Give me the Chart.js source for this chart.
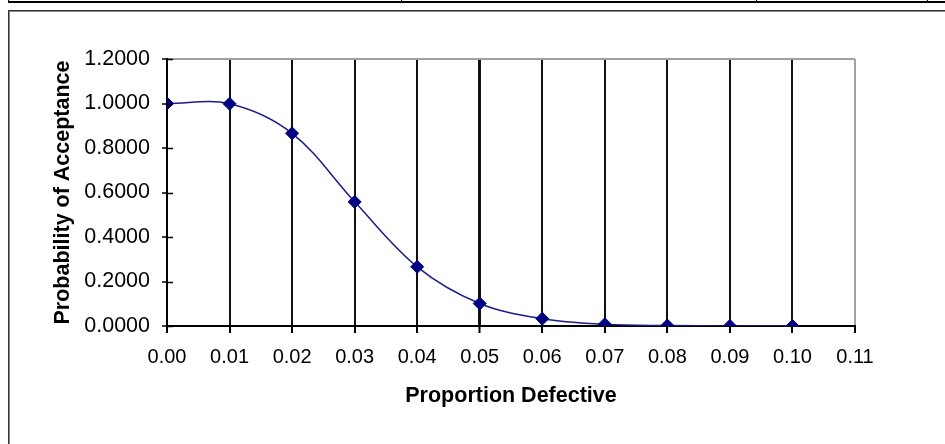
<!DOCTYPE html>
<html>
<head>
<meta charset="utf-8">
<title>OC Curve</title>
<script src="https://cdn.jsdelivr.net/npm/chart.js@4.4.0/dist/chart.umd.min.js"></script>
<style>
    html, body {
        margin: 0;
        padding: 0;
        width: 945px;
        height: 444px;
        overflow: hidden;
        background: #fff;
    }
    /* strip of the table row above the chart */
    .topRow {
        position: absolute;
        top: -30px;
        left: 8px;
        width: 1000px;
        height: 31px;
        border-bottom: 2px solid #000;
        display: flex;
    }
    .topRow div {
        border-left: 1px solid #000;
        height: 100%;
    }
    /* chart frame */
    .chartBox {
        position: absolute;
        top: 10px;
        left: 8px;
        width: 1000px;
        height: 500px;
        border-top: 1px solid #333;
        border-left: 1px solid #333;
        box-shadow: inset 1px 1px 0 #8a8a8a;
    }
    #ocChart {
        position: absolute;
        top: 0;
        left: 0;
    }
</style>
</head>
<body>
<div class="topRow">
    <div style="width:393px"></div>
    <div style="width:354px"></div>
    <div style="width:171px"></div>
    <div style="width:80px"></div>
</div>
<div class="chartBox"></div>
<canvas id="ocChart" width="945" height="444"></canvas>

<script>
// Operating characteristic curve data
const proportionDefective = [0.00, 0.01, 0.02, 0.03, 0.04, 0.05, 0.06, 0.07, 0.08, 0.09, 0.10];
const probAcceptance = [1.0000, 0.9990, 0.8660, 0.5580, 0.2660, 0.1010, 0.0330, 0.0080, 0.0020, 0.0005, 0.0001];

const xTitle = 'Proportion Defective';
const yTitle = 'Probability of Acceptance';

const labelFont = "'Liberation Sans', Arial, sans-serif";

// Short tick stubs that cross into the plot from the value axis
const innerTicks = {
    id: 'innerTicks',
    afterDraw(chart) {
        const ctx = chart.ctx;
        const y = chart.scales.y;
        const left = chart.chartArea.left;
        ctx.save();
        ctx.strokeStyle = '#000';
        ctx.lineWidth = 1.5;
        y.ticks.forEach(t => {
            const py = Math.round(y.getPixelForValue(t.value)) + 0.5;
            ctx.beginPath();
            ctx.moveTo(left, py);
            ctx.lineTo(left + 6, py);
            ctx.stroke();
        });
        ctx.restore();
    }
};

function initChart() {
    const ctx = document.getElementById('ocChart').getContext('2d');
    const points = proportionDefective.map((p, i) => ({ x: p, y: probAcceptance[i] }));

    new Chart(ctx, {
        type: 'line',
        data: {
            datasets: [{
                data: points,
                borderColor: '#1c1c8c',
                borderWidth: 1.5,
                tension: 0.35,
                fill: false,
                pointStyle: 'rectRot',
                pointRadius: 6.5,
                pointBorderWidth: 1,
                pointBackgroundColor: '#000080',
                pointBorderColor: '#000080'
            }]
        },
        options: {
            responsive: false,
            animation: false,
            layout: {
                padding: { left: 0, right: 90, top: 59, bottom: 0 }
            },
            plugins: {
                legend: { display: false },
                tooltip: { enabled: false }
            },
            scales: {
                x: {
                    type: 'linear',
                    min: 0,
                    max: 0.11,
                    afterFit(scale) { scale.height = 118; },
                    ticks: {
                        stepSize: 0.01,
                        color: '#000',
                        padding: 12,
                        font: { family: labelFont, size: 20 },
                        callback: v => v.toFixed(2)
                    },
                    grid: {
                        color: c => {
                            if (c.tick && Math.abs(c.tick.value - 0.11) < 1e-9) return '#a0a0a0';
                            return '#111';
                        },
                        lineWidth: c => (c.tick && Math.abs(c.tick.value - 0.05) < 1e-9) ? 3 : 2,
                        tickColor: '#000',
                        tickLength: 7,
                        tickWidth: 2
                    },
                    border: { display: true, color: '#000', width: 2 },
                    title: {
                        display: true,
                        text: xTitle,
                        color: '#000',
                        font: { family: labelFont, size: 21.5, weight: 'bold' },
                        padding: { top: 0, bottom: 35 }
                    }
                },
                y: {
                    min: 0,
                    max: 1.2,
                    afterFit(scale) { scale.width = 167; },
                    ticks: {
                        stepSize: 0.2,
                        color: '#000',
                        padding: 12,
                        font: { family: labelFont, size: 21.5 },
                        callback: v => v.toFixed(4)
                    },
                    grid: {
                        color: c => (c.tick && Math.abs(c.tick.value - 1.2) < 1e-9) ? '#a0a0a0' : 'rgba(0,0,0,0)',
                        lineWidth: 2,
                        tickColor: '#000',
                        tickLength: 5,
                        tickWidth: 1.5
                    },
                    border: { display: true, color: '#000', width: 2 },
                    title: {
                        display: true,
                        text: yTitle,
                        color: '#000',
                        font: { family: labelFont, size: 21.5, weight: 'bold' },
                        padding: { top: 50, bottom: 0 }
                    }
                }
            }
        },
        plugins: [innerTicks]
    });
}

document.addEventListener('DOMContentLoaded', initChart);
</script>
</body>
</html>
